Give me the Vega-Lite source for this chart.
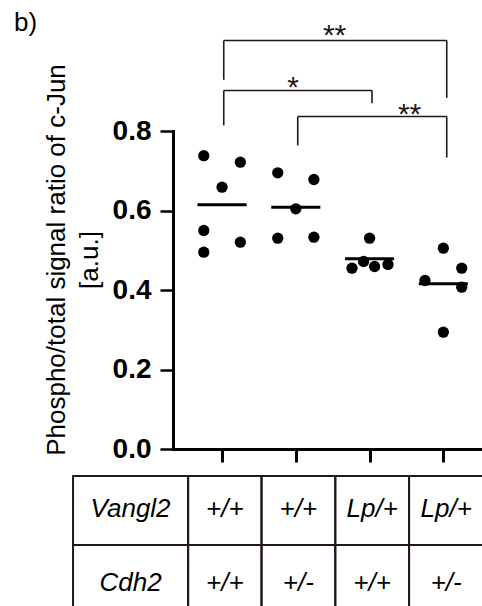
{
  "$schema": "https://vega.github.io/schema/vega-lite/v6.json",
  "background": "white",
  "padding": {"left": 14, "top": 9, "right": 0, "bottom": 0},
  "title": {"text": "b)", "anchor": "start", "frame": "bounds", "fontSize": 26, "font": "Liberation Sans", "fontWeight": "normal", "color": "black", "dx": -29, "offset": -15},
  "config": {"view": {"stroke": null}, "font": "Liberation Sans"},
  "spacing": 11,
  "datasets": {
    "points": [
      {"group": "1", "x": 0.752, "value": 0.738},
      {"group": "1", "x": 1.248, "value": 0.7215},
      {"group": "1", "x": 1.0, "value": 0.6586},
      {"group": "1", "x": 0.752, "value": 0.5497},
      {"group": "1", "x": 0.752, "value": 0.4951},
      {"group": "1", "x": 1.248, "value": 0.5203},
      {"group": "2", "x": 1.755, "value": 0.6948},
      {"group": "2", "x": 2.245, "value": 0.678},
      {"group": "2", "x": 2.0, "value": 0.6043},
      {"group": "2", "x": 1.755, "value": 0.5303},
      {"group": "2", "x": 2.245, "value": 0.5329},
      {"group": "3", "x": 3.0, "value": 0.5303},
      {"group": "3", "x": 2.761, "value": 0.4549},
      {"group": "3", "x": 2.919, "value": 0.4717},
      {"group": "3", "x": 3.068, "value": 0.4591},
      {"group": "3", "x": 3.249, "value": 0.4642},
      {"group": "4", "x": 4.0, "value": 0.5052},
      {"group": "4", "x": 4.249, "value": 0.4549},
      {"group": "4", "x": 3.751, "value": 0.4239},
      {"group": "4", "x": 4.249, "value": 0.4071},
      {"group": "4", "x": 4.0, "value": 0.2939}
    ],
    "means": [
      {"group": "1", "x0": 0.667, "x1": 1.333, "mean": 0.6143},
      {"group": "2", "x0": 1.667, "x1": 2.333, "mean": 0.6083},
      {"group": "3", "x0": 2.667, "x1": 3.333, "mean": 0.4785},
      {"group": "4", "x0": 3.667, "x1": 4.333, "mean": 0.4156}
    ],
    "brackets": [
      {"x": 1.023, "x2": 4.046, "y": 1.0277, "y2": 1.0277},
      {"x": 1.023, "x2": 1.023, "y": 1.0277, "y2": 0.9288},
      {"x": 4.046, "x2": 4.046, "y": 1.0277, "y2": 0.8835},
      {"x": 1.023, "x2": 3.033, "y": 0.9019, "y2": 0.9019},
      {"x": 1.023, "x2": 1.023, "y": 0.9019, "y2": 0.8138},
      {"x": 3.033, "x2": 3.033, "y": 0.9019, "y2": 0.87},
      {"x": 2.026, "x2": 4.046, "y": 0.8365, "y2": 0.8365},
      {"x": 2.026, "x2": 2.026, "y": 0.8365, "y2": 0.7635},
      {"x": 4.046, "x2": 4.046, "y": 0.8365, "y2": 0.7333}
    ],
    "stars": [
      {"x": 2.525, "y": 1.017, "label": "**"},
      {"x": 1.962, "y": 0.886, "label": "*"},
      {"x": 3.542, "y": 0.818, "label": "**"}
    ],
    "table": [
      {"row": 0, "y0": 0, "y1": 1, "yc": 0.6, "x0": -1.02, "x1": 0.54, "xc": -0.24, "label": "Vangl2"},
      {"row": 0, "y0": 0, "y1": 1, "yc": 0.6, "x0": 0.54, "x1": 1.535, "xc": 1.038, "label": "+/+"},
      {"row": 0, "y0": 0, "y1": 1, "yc": 0.6, "x0": 1.535, "x1": 2.535, "xc": 2.035, "label": "+/+"},
      {"row": 0, "y0": 0, "y1": 1, "yc": 0.6, "x0": 2.535, "x1": 3.535, "xc": 3.035, "label": "Lp/+"},
      {"row": 0, "y0": 0, "y1": 1, "yc": 0.6, "x0": 3.535, "x1": 4.54, "xc": 4.038, "label": "Lp/+"},
      {"row": 1, "y0": 1, "y1": 2, "yc": 1.66, "x0": -1.02, "x1": 0.54, "xc": -0.24, "label": "Cdh2"},
      {"row": 1, "y0": 1, "y1": 2, "yc": 1.66, "x0": 0.54, "x1": 1.535, "xc": 1.038, "label": "+/+"},
      {"row": 1, "y0": 1, "y1": 2, "yc": 1.66, "x0": 1.535, "x1": 2.535, "xc": 2.035, "label": "+/-"},
      {"row": 1, "y0": 1, "y1": 2, "yc": 1.66, "x0": 2.535, "x1": 3.535, "xc": 3.035, "label": "+/+"},
      {"row": 1, "y0": 1, "y1": 2, "yc": 1.66, "x0": 3.535, "x1": 4.54, "xc": 4.038, "label": "+/-"}
    ]
  },
  "vconcat": [
    {
      "width": 320,
      "height": 318,
      "layer": [
        {
          "data": {"name": "points"},
          "mark": {"type": "circle", "size": 127, "color": "black", "opacity": 1},
          "encoding": {
            "x": {"field": "x", "type": "quantitative",
              "scale": {"domain": [0.335, 4.673], "nice": false, "zero": false},
              "axis": {"values": [1, 2, 3, 4], "labels": false, "title": null, "grid": false, "tickSize": 13, "tickWidth": 3, "tickColor": "black", "domainWidth": 3, "domainColor": "black", "domainCap": "square"}},
            "y": {"field": "value", "type": "quantitative",
              "scale": {"domain": [0, 0.8], "nice": false},
              "axis": {"values": [0, 0.2, 0.4, 0.6, 0.8], "format": ".1f", "grid": false,
                "labelFont": "Liberation Sans", "labelFontSize": 28, "labelFontWeight": "bold", "labelColor": "black", "labelPadding": 9,
                "tickSize": 13, "tickWidth": 2.5, "tickColor": "black", "domainWidth": 3, "domainColor": "black", "domainCap": "square",
                "title": ["Phospho/total signal ratio of c-Jun", "[a.u.]"],
                "titleFont": "Liberation Sans", "titleFontSize": 26, "titleFontWeight": "normal", "titleColor": "black",
                "titleLineHeight": 33, "titleY": 128.5, "titlePadding": 10}}
          }
        },
        {
          "data": {"name": "means"},
          "mark": {"type": "rule", "color": "black", "strokeWidth": 3},
          "encoding": {
            "x": {"field": "x0", "type": "quantitative"},
            "x2": {"field": "x1"},
            "y": {"field": "mean", "type": "quantitative"}
          }
        },
        {
          "data": {"name": "brackets"},
          "mark": {"type": "rule", "color": "#231815", "strokeWidth": 1.6},
          "encoding": {
            "x": {"field": "x", "type": "quantitative"},
            "x2": {"field": "x2"},
            "y": {"field": "y", "type": "quantitative"},
            "y2": {"field": "y2"}
          }
        },
        {
          "data": {"name": "stars"},
          "mark": {"type": "text", "fontSize": 30, "font": "Liberation Sans", "baseline": "alphabetic", "align": "center", "color": "#231815"},
          "encoding": {
            "x": {"field": "x", "type": "quantitative"},
            "y": {"field": "y", "type": "quantitative"},
            "text": {"field": "label"}
          }
        }
      ]
    },
    {
      "width": 320,
      "height": 138,
      "data": {"name": "table"},
      "layer": [
        {
          "mark": {"type": "rect", "filled": false, "stroke": "#231815", "strokeWidth": 2},
          "encoding": {
            "x": {"field": "x0", "type": "quantitative", "scale": {"domain": [0.335, 4.673], "nice": false, "zero": false}, "axis": null},
            "x2": {"field": "x1"},
            "y": {"field": "y0", "type": "quantitative", "scale": {"domain": [0, 2], "nice": false, "reverse": true}, "axis": null},
            "y2": {"field": "y1"}
          }
        },
        {
          "mark": {"type": "text", "fontSize": 26, "font": "Liberation Sans", "fontStyle": "italic", "baseline": "alphabetic", "align": "center", "color": "black"},
          "encoding": {
            "x": {"field": "xc", "type": "quantitative"},
            "y": {"field": "yc", "type": "quantitative"},
            "text": {"field": "label"}
          }
        }
      ]
    }
  ]
}
